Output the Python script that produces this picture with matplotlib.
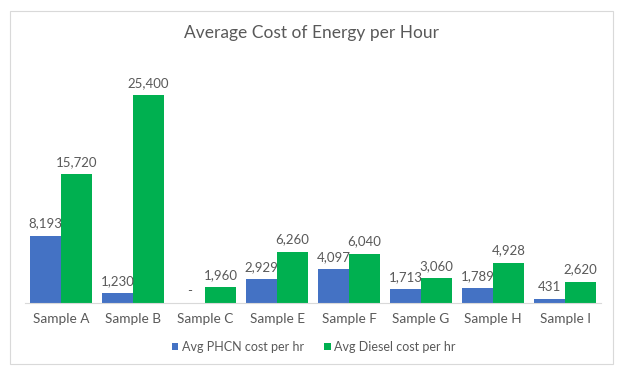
import matplotlib
matplotlib.use("Agg")
import matplotlib.pyplot as plt
from matplotlib.patches import Rectangle
import numpy as np

categories = ["Sample A", "Sample B", "Sample C", "Sample E", "Sample F", "Sample G", "Sample H", "Sample I"]
phcn = [8193, 1230, 0, 2929, 4097, 1713, 1789, 431]
diesel = [15720, 25400, 1960, 6260, 6040, 3060, 4928, 2620]
series_names = ["Avg PHCN cost per hr", "Avg Diesel cost per hr"]
title = "Average Cost of Energy per Hour"

blue = "#4472C4"
green = "#00B050"
txt = "#595959"
font = "Lato"

W, H = 618, 371
fig = plt.figure(figsize=(W / 100, H / 100), dpi=100)
fig.patches.append(Rectangle((10 / W, 7 / H), 603 / W, 353 / H, transform=fig.transFigure,
                             fill=False, edgecolor="#D9D9D9", linewidth=0.8))

ax = fig.add_axes([25 / W, 68 / H, 576 / W, (303 - 57.3) / H])
x = np.arange(len(categories))
bw = 0.43
b1 = ax.bar(x - bw / 2, phcn, bw, color=blue, label=series_names[0])
b2 = ax.bar(x + bw / 2, diesel, bw, color=green, label=series_names[1])
ax.set_xlim(-0.5, len(categories) - 0.5)
ax.set_ylim(0, 30000)

def fmt(v):
    return "-" if v == 0 else f"{v:,}"

for bars, vals in ((b1, phcn), (b2, diesel)):
    for r, v in zip(bars, vals):
        ax.annotate(fmt(v), (r.get_x() + r.get_width() / 2, v), xytext=(0, 4.5),
                    textcoords="offset points", ha="center", va="bottom",
                    fontsize=9.5, color=txt, family=font)

for s in ["top", "left", "right"]:
    ax.spines[s].set_visible(False)
ax.spines["bottom"].set_color("#D9D9D9")
ax.spines["bottom"].set_linewidth(0.8)
ax.set_yticks([])
ax.set_xticks(x)
ax.set_xticklabels(categories, fontsize=9.8, color=txt, family=font)
ax.tick_params(axis="x", length=0, pad=7)

fig.text(312 / W, 1 - 33 / H, title, ha="center", va="center", fontsize=12.5, color=txt, family=font)

fig.legend(handles=[b1, b2], labels=series_names, loc="center", bbox_to_anchor=(314 / W, 1 - 347 / H),
           ncol=2, frameon=False, prop={"family": font, "size": 9}, labelcolor=txt,
           handlelength=0.5, handleheight=0.5, handletextpad=0.3, columnspacing=1.6)

fig.savefig("out.png", dpi=100)
